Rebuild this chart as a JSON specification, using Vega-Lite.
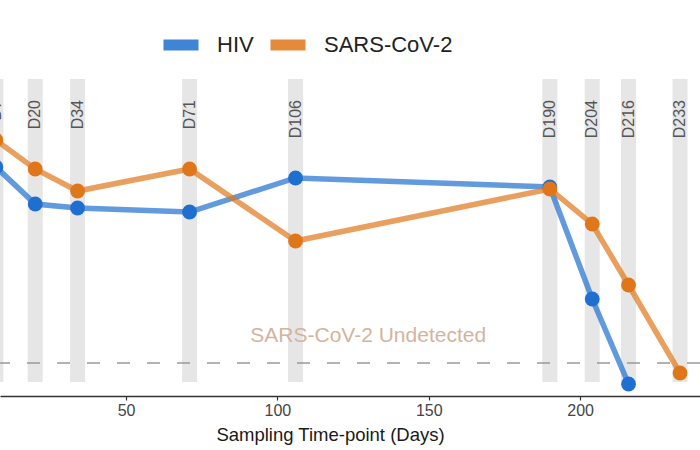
{
  "$schema": "https://vega.github.io/schema/vega-lite/v6.json",
  "width": 700,
  "height": 326,
  "autosize": {"type": "none"},
  "padding": {"top": 70, "left": 0, "right": 0, "bottom": 54},
  "background": "white",
  "config": {
    "view": {"stroke": null},
    "font": "Liberation Sans"
  },
  "datasets": {
    "samples": [
      {"day": 7, "label": "D7"},
      {"day": 20, "label": "D20"},
      {"day": 34, "label": "D34"},
      {"day": 71, "label": "D71"},
      {"day": 106, "label": "D106"},
      {"day": 190, "label": "D190"},
      {"day": 204, "label": "D204"},
      {"day": 216, "label": "D216"},
      {"day": 233, "label": "D233"}
    ],
    "threshold": [
      {"value": 0.66, "label": "SARS-CoV-2 Undetected", "labelDay": 130, "labelValue": 1.2}
    ],
    "load": [
      {"virus": "HIV", "day": 7, "value": 4.58},
      {"virus": "HIV", "day": 20, "value": 3.84},
      {"virus": "HIV", "day": 34, "value": 3.76},
      {"virus": "HIV", "day": 71, "value": 3.68},
      {"virus": "HIV", "day": 106, "value": 4.36},
      {"virus": "HIV", "day": 190, "value": 4.18},
      {"virus": "HIV", "day": 204, "value": 1.94},
      {"virus": "HIV", "day": 216, "value": 0.24},
      {"virus": "SARS-CoV-2", "day": 7, "value": 5.12},
      {"virus": "SARS-CoV-2", "day": 20, "value": 4.54},
      {"virus": "SARS-CoV-2", "day": 34, "value": 4.10},
      {"virus": "SARS-CoV-2", "day": 71, "value": 4.54},
      {"virus": "SARS-CoV-2", "day": 106, "value": 3.10},
      {"virus": "SARS-CoV-2", "day": 190, "value": 4.14},
      {"virus": "SARS-CoV-2", "day": 204, "value": 3.44},
      {"virus": "SARS-CoV-2", "day": 216, "value": 2.22},
      {"virus": "SARS-CoV-2", "day": 233, "value": 0.46}
    ]
  },
  "layer": [
    {
      "data": {"name": "samples"},
      "mark": {"type": "rule", "color": "#e6e6e6", "strokeWidth": 15, "clip": true},
      "encoding": {
        "x": {"field": "day", "type": "quantitative", "scale": {"domain": [8.37, 239.6], "nice": false, "zero": false},
          "axis": {"values": [50, 100, 150, 200], "grid": false, "domainColor": "#333", "domainWidth": 1.5, "tickColor": "#333", "tickSize": 4, "tickWidth": 1.2,
            "labelFontSize": 16, "labelColor": "#444", "labelPadding": 2,
            "title": "Sampling Time-point (Days)", "titleFontSize": 18.5, "titleFontWeight": "normal", "titleColor": "#1a1a1a", "titleX": 330, "titleY": 48, "titleBaseline": "bottom"}},
        "y": {"datum": 6.34, "type": "quantitative", "scale": {"domain": [0, 6.52], "nice": false, "zero": false}, "axis": null},
        "y2": {"datum": 0.28}
      }
    },
    {
      "data": {"name": "samples"},
      "mark": {"type": "text", "angle": 270, "align": "right", "baseline": "middle", "fontSize": 16, "color": "#555", "clip": true},
      "encoding": {
        "x": {"field": "day", "type": "quantitative"},
        "y": {"datum": 5.92, "type": "quantitative"},
        "text": {"field": "label"}
      }
    },
    {
      "data": {"name": "threshold"},
      "mark": {"type": "rule", "color": "#999999", "strokeWidth": 1.6, "strokeDash": [13, 17]},
      "encoding": {
        "y": {"field": "value", "type": "quantitative"}
      }
    },
    {
      "data": {"name": "threshold"},
      "mark": {"type": "text", "fontSize": 21, "color": "#d4b49c", "align": "center", "baseline": "middle"},
      "encoding": {
        "x": {"field": "labelDay", "type": "quantitative"},
        "y": {"field": "labelValue", "type": "quantitative"},
        "text": {"field": "label"}
      }
    },
    {
      "data": {"name": "load"},
      "mark": {"type": "line", "strokeWidth": 5.5, "opacity": 0.7, "clip": true,
        "point": {"filled": true, "size": 220, "opacity": 1}},
      "encoding": {
        "x": {"field": "day", "type": "quantitative"},
        "y": {"field": "value", "type": "quantitative"},
        "color": {"field": "virus", "type": "nominal",
          "scale": {"domain": ["HIV", "SARS-CoV-2"], "range": ["#1f6fd0", "#e0761a"]},
          "legend": {"orient": "none", "direction": "horizontal", "legendX": 158, "legendY": -48, "title": null,
            "symbolType": "stroke", "symbolSize": 1225, "symbolStrokeWidth": 11, "symbolOpacity": 0.85,
            "labelFontSize": 22, "labelColor": "#222", "labelOffset": 13, "columnPadding": -6, "padding": 0}}
      }
    }
  ]
}
